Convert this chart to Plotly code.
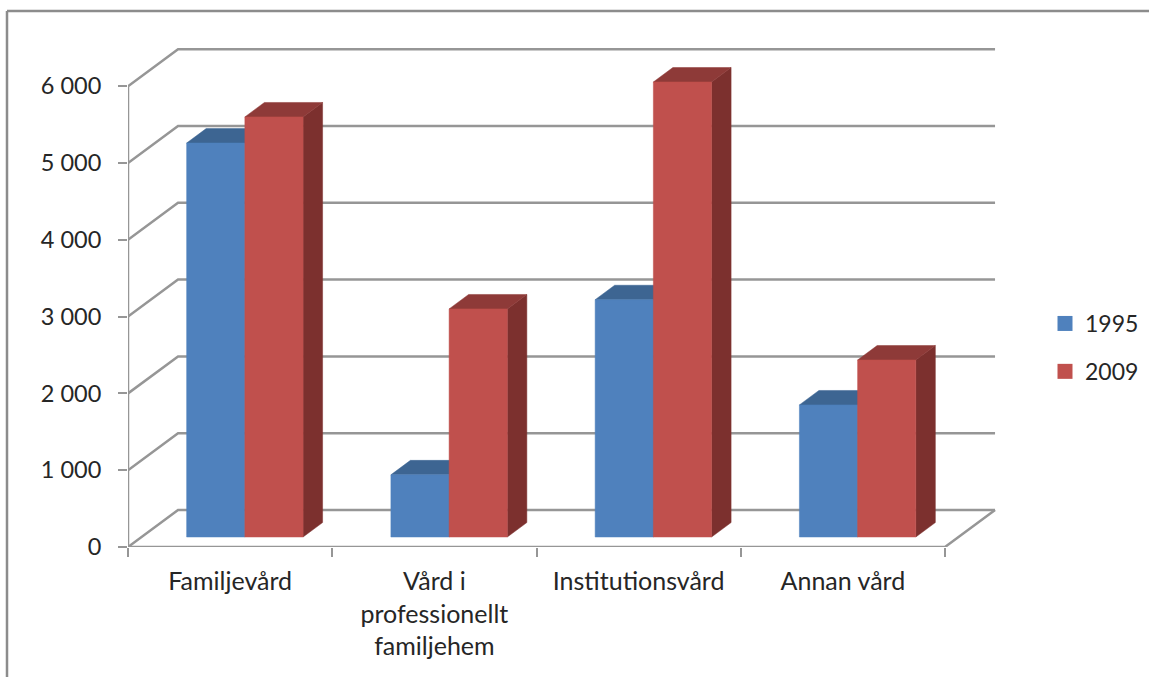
import plotly.graph_objects as go

categories = ["Familjevård", "Vård i<br>professionellt<br>familjehem", "Institutionsvård", "Annan vård"]
values_1995 = [5130, 810, 3090, 1720]
values_2009 = [5470, 2970, 5925, 2305]
y_ticks = [0, 1000, 2000, 3000, 4000, 5000, 6000]

BLUE, BLUE_DARK = "#4f81bd", "#3d6592"
RED, RED_TOP, RED_SIDE = "#c0504d", "#8e3a38", "#7c302e"
GRID = "#969696"
FRAME = "#8c8c8c"
TEXT = "#262626"
FONT = "Lato"

# Oblique projection of the floor: a step into the chart moves right and up.
FLOOR_DX = 0.245   # category widths for the full depth
FLOOR_DY = 482     # value units for the full depth
BAR_LEFT = 0.221
BAR_WIDTH = 0.285
BAR_D0, BAR_D1 = 0.27, 0.66


def project(x, depth, value):
    return x + depth * FLOOR_DX, value + depth * FLOOR_DY


def polygons(faces):
    xs, ys = [], []
    for face in faces:
        pts = [project(*p) for p in face]
        pts.append(pts[0])
        xs += [p[0] for p in pts] + [None]
        ys += [p[1] for p in pts] + [None]
    return xs, ys


def bar_faces(index, slot, value):
    x0 = index + BAR_LEFT + slot * BAR_WIDTH
    x1 = x0 + BAR_WIDTH
    front = [(x0, BAR_D0, 0), (x1, BAR_D0, 0), (x1, BAR_D0, value), (x0, BAR_D0, value)]
    top = [(x0, BAR_D0, value), (x1, BAR_D0, value), (x1, BAR_D1, value), (x0, BAR_D1, value)]
    side = [(x1, BAR_D0, 0), (x1, BAR_D1, 0), (x1, BAR_D1, value), (x1, BAR_D0, value)]
    return front, top, side


def wall_line(points, width=2.5):
    xy = [project(*p) for p in points]
    return go.Scatter(x=[p[0] for p in xy], y=[p[1] for p in xy], mode="lines",
                      line=dict(color=GRID, width=width), hoverinfo="skip", showlegend=False)


fig = go.Figure()
n = len(categories)

# Back wall and side wall grid
for v in y_ticks:
    fig.add_trace(wall_line([(0, 0, v), (0, 1, v), (n, 1, v)]))

# Floor front edge, right edge and the value axis
fig.add_trace(wall_line([(0, 0, 0), (n, 0, 0), (n, 1, 0)]))
fig.add_trace(wall_line([(0, 0, 0), (0, 0, y_ticks[-1])]))

# Bars, one trace per face colour; the later series covers the earlier one's hidden faces
for slot, (vals, front_c, top_c, side_c) in enumerate([
    (values_1995, BLUE, BLUE_DARK, BLUE_DARK),
    (values_2009, RED, RED_TOP, RED_SIDE),
]):
    faces = [bar_faces(i, slot, v) for i, v in enumerate(vals)]
    for k, colour in ((2, side_c), (1, top_c), (0, front_c)):
        xs, ys = polygons([f[k] for f in faces])
        fig.add_trace(go.Scatter(x=xs, y=ys, mode="lines", fill="toself", fillcolor=colour,
                                 line=dict(color=colour, width=0.5), hoverinfo="skip",
                                 showlegend=False))

# Legend swatches
for name, colour in (("1995", BLUE), ("2009", RED)):
    fig.add_trace(go.Scatter(x=[None], y=[None], mode="markers", name=name, legendgroup=name,
                             marker=dict(symbol="square", size=15, color=colour)))

PX_X = 204.25
PX_Y = 76.8 / 1000
ML, MR, MT, MB = 128, 139, 40, 130
plot_w = 1149 - ML - MR
plot_h = 677 - MT - MB

fig.update_layout(
    width=1149, height=677,
    margin=dict(l=ML, r=MR, t=MT, b=MB, autoexpand=False),
    paper_bgcolor="white", plot_bgcolor="white",
    font=dict(family=FONT, size=23, color=TEXT),
    separators=", ",
    xaxis=dict(
        range=[0, plot_w / PX_X], showgrid=False, zeroline=False, showline=False,
        tickmode="array", tickvals=[i + 0.5 for i in range(n)], ticktext=categories,
        tickfont=dict(size=25), ticks="", ticklabelstandoff=17,
        minor=dict(tickmode="array", tickvals=list(range(n + 1)), ticks="outside",
                   ticklen=9, tickwidth=2, tickcolor=GRID, showgrid=False),
    ),
    yaxis=dict(
        range=[0, plot_h / PX_Y], showgrid=False, zeroline=False, showline=False,
        tickmode="array", tickvals=y_ticks, tickformat=",", ticks="outside",
        tickfont=dict(size=23.5), ticklen=9, tickwidth=2, tickcolor=GRID, ticklabelstandoff=12,
    ),
    legend=dict(x=(1045 - ML) / plot_w, y=1 - (302 - MT) / plot_h, xanchor="left", yanchor="top",
                font=dict(size=23), tracegroupgap=15, bgcolor="rgba(0,0,0,0)",
                itemclick=False, itemdoubleclick=False),
    shapes=[
        dict(type="line", xref="paper", yref="paper", x0=(7 - ML) / plot_w, x1=(7 - ML) / plot_w,
             y0=1 - (11 - MT) / plot_h, y1=1 - (677 - MT) / plot_h, line=dict(color=FRAME, width=2.5)),
        dict(type="line", xref="paper", yref="paper", x0=(7 - ML) / plot_w, x1=(1149 - ML) / plot_w,
             y0=1 - (11 - MT) / plot_h, y1=1 - (11 - MT) / plot_h, line=dict(color=FRAME, width=2.5)),
    ],
)

fig.write_html("out.html", config=dict(displayModeBar=False))
